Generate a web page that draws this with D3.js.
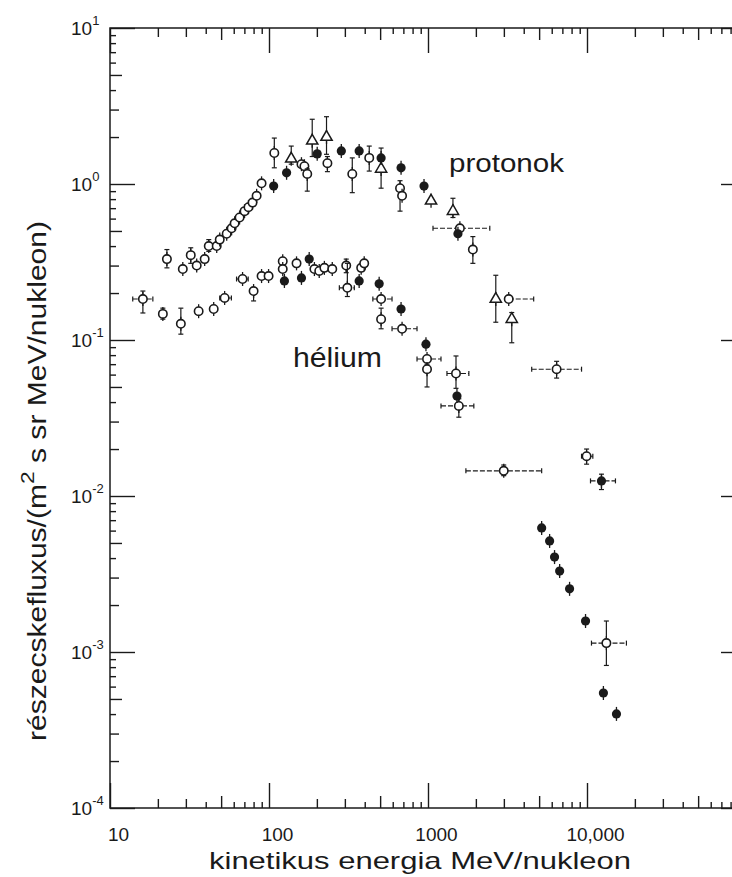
<!DOCTYPE html>
<html><head><meta charset="utf-8">
<script src="https://cdn.jsdelivr.net/npm/d3@7"></script>
<style>
html,body{margin:0;padding:0;background:#fff;}
svg{display:block;}
text{font-family:"Liberation Sans",Arial,Helvetica,sans-serif;fill:#1a1a1a;}
</style></head><body>
<svg id="c" width="732" height="877"></svg>
<script>
// ---- data: [energy MeV/nucleon, flux, fluxLo, fluxHi, energyLo, energyHi] ----
const protonOpen = [
  [22.8,0.33,0.29,0.38],[28.7,0.285],[32.2,0.35,0.31,0.39],[35.1,0.30],[39.4,0.33],
  [41.8,0.40,0.37,0.44],[46.9,0.40],[49.0,0.44],[54.2,0.48],[58.2,0.52],[60.8,0.56],
  [65.3,0.61],[70.2,0.67],[74.3,0.71],[78.8,0.76],[83.6,0.84],[89.8,1.01],
  [108,1.58,1.27,1.97],[160,1.34],[167,1.30],[174,1.16,0.90,1.25],[233,1.36,1.20,1.50],
  [334,1.16,0.88,1.47],[427,1.47,1.21,1.75],[667,0.94,0.67,1.05],[687,0.84],
  [1587,0.52,null,null,1075,2447],[1915,0.38,0.31,0.46],[3219,0.183,null,null,null,4620],
  [6440,0.065,0.057,0.073,4490,9240],[9940,0.018,0.016,0.020,9240,10880]
];
const protonFilled = [
  [107,0.97],[129,1.18],[201,1.56],[285,1.63],[369,1.63],[507,1.47],[677,1.27],
  [944,0.97],[1543,0.48],[12330,0.0125,0.011,0.0138,10520,15100]
];
const protonTriangle = [
  [138,1.45,1.34,1.75],[187,1.89,1.50,2.60],[230,2.0,1.55,2.7],[507,1.25,0.94,1.70],
  [1045,0.78],[1435,0.67,0.61,0.81],[2669,0.183,0.13,0.26],[3364,0.136,0.096,0.15]
];
const heliumOpen = [
  [16.1,0.183,0.149,0.206,13.9,18.6],[21.5,0.147,0.136,0.16],[27.9,0.127,0.109,0.16],
  [36.1,0.153],[44.9,0.158],[52.6,0.186,null,null,49,58],[68.2,0.246,null,null,62.5,74],
  [80.0,0.206,0.178,0.216],[89.8,0.257],[99.4,0.257],[122,0.32],[122,0.285],[149,0.31],
  [193,0.285],[207,0.277],[223,0.29],[250,0.285],[306,0.30,0.27,0.33],
  [311,0.216,0.19,0.31,277,344],[380,0.29],[397,0.31],[507,0.183,null,null,450,594],
  [507,0.136,0.118,0.16],[687,0.118,null,null,594,853],[986,0.0756,null,null,853,1207],
  [986,0.065,0.05,0.07],[1500,0.061,0.049,0.079,1316,1807],[1563,0.0378,0.032,0.042,1207,1942],
  [2995,0.0145,0.0135,0.0158,1731,5186],[13240,0.00114,0.00082,0.00158,10670,17700]
];
const heliumFilled = [
  [125,0.239],[160,0.25],[179,0.33],[369,0.239],[493,0.229],[677,0.158],[971,0.094],
  [1521,0.0437],[5186,0.00624],[5820,0.00515],[6250,0.00406],[6730,0.0033],[7770,0.00254],
  [9790,0.00158],[12680,0.000546],[15320,0.000401]
];
const xMajor = [10,100,1000,10000];
const xTickLabels = ["10","100","1000","10,000"];
const yMajor = [10,1,0.1,0.01,0.001,0.0001];
const yTickExp = ["1","0","-1","-2","-3","-4"];
const xTitle = "kinetikus energia MeV/nukleon";
const yTitleA = "részecskefluxus/(m", yTitleSup = "2", yTitleB = " s sr MeV/nukleon)";
const seriesLabels = ["protonok","hélium"];

// ---- drawing ----
const ink = "#1a1a1a";
const svg = d3.select("#c");
svg.append("rect").attr("width",732).attr("height",877).attr("fill","#fff");
const x = d3.scaleLog().domain([10,1e5]).range([110,746]);
const y = d3.scaleLog().domain([1e-4,10]).range([808,28]);
const L = x.range()[0], R = x.range()[1], T = y.range()[1], B = y.range()[0];

function decadeTicks(lo,hi,ks){const out=[];for(let e=lo;e<hi;e++)for(const k of ks)out.push(+(k*Math.pow(10,e)).toPrecision(6));return out;}
const groups = [
  {ks:[5], len:12},
  {ks:[2,3], len:9},
  {ks:[4,6,7,8,9], len:6}
];
function styleAxis(g){g.select(".domain").remove();g.selectAll("line").attr("stroke",ink).attr("stroke-width",1.4);}
// minor ticks on all four sides
groups.forEach(gp=>{
  const xv = decadeTicks(1,5,gp.ks), yv = decadeTicks(-4,1,gp.ks);
  svg.append("g").attr("transform",`translate(0,${B})`).call(d3.axisBottom(x).tickValues(xv).tickSize(-gp.len).tickFormat("")).call(styleAxis);
  svg.append("g").attr("transform",`translate(0,${T})`).call(d3.axisTop(x).tickValues(xv).tickSize(-gp.len).tickFormat("")).call(styleAxis);
  svg.append("g").attr("transform",`translate(${L},0)`).call(d3.axisLeft(y).tickValues(yv).tickSize(-gp.len).tickFormat("")).call(styleAxis);
  svg.append("g").attr("transform",`translate(${R},0)`).call(d3.axisRight(y).tickValues(yv).tickSize(-gp.len).tickFormat("")).call(styleAxis);
});
// major ticks
const bottomAx = svg.append("g").attr("transform",`translate(0,${B})`)
  .call(d3.axisBottom(x).tickValues(xMajor).tickSize(-25).tickPadding(20).tickFormat((d,i)=>xTickLabels[i]))
  .call(styleAxis);
bottomAx.selectAll("text").attr("font-size",19).attr("dx",8).attr("font-family","'Liberation Sans',Arial,sans-serif").attr("fill",ink);
svg.append("g").attr("transform",`translate(0,${T})`).call(d3.axisTop(x).tickValues(xMajor).tickSize(-25).tickFormat("")).call(styleAxis);
svg.append("g").attr("transform",`translate(${L},0)`).call(d3.axisLeft(y).tickValues(yMajor).tickSize(-25).tickFormat("")).call(styleAxis);
svg.append("g").attr("transform",`translate(${R},0)`).call(d3.axisRight(y).tickValues(yMajor).tickSize(-25).tickFormat("")).call(styleAxis);
// frame
svg.append("rect").attr("x",L).attr("y",T).attr("width",R-L).attr("height",B-T)
  .attr("fill","none").attr("stroke",ink).attr("stroke-width",1.5);

// y tick labels 10^n
yMajor.forEach((v,i)=>{
  const t = svg.append("text").attr("x",71).attr("y",y(v)+7).attr("font-size",19);
  t.append("tspan").text("10");
  t.append("tspan").attr("font-size",13).attr("dy",-10).text(yTickExp[i]);
});

// axis titles
svg.append("text").attr("x",420).attr("y",869).attr("text-anchor","middle")
  .attr("font-size",24).attr("textLength",422).attr("lengthAdjust","spacingAndGlyphs").text(xTitle);
const yt = svg.append("text").attr("transform","translate(46,481) rotate(-90)")
  .attr("text-anchor","middle").attr("font-size",25).attr("textLength",520).attr("lengthAdjust","spacingAndGlyphs");
yt.append("tspan").text(yTitleA);
yt.append("tspan").attr("font-size",19).attr("dy",-12).text(yTitleSup);
yt.append("tspan").attr("dy",12).text(yTitleB);

// series labels
svg.append("text").attr("x",449).attr("y",172).attr("font-size",26)
  .attr("textLength",115).attr("lengthAdjust","spacingAndGlyphs").text(seriesLabels[0]);
svg.append("text").attr("x",293).attr("y",367).attr("font-size",27)
  .attr("textLength",89).attr("lengthAdjust","spacingAndGlyphs").text(seriesLabels[1]);

// data points
const plot = svg.append("g");
function drawSeries(data, kind){
  const g = plot.append("g");
  data.forEach(d=>{
    const [E,F,Flo,Fhi,Elo,Ehi] = d;
    const px = x(E), py = y(F);
    // stem
    g.append("line").attr("x1",px).attr("x2",px).attr("y1",py-7).attr("y2",py+7)
      .attr("stroke",ink).attr("stroke-width",1.3);
    if (Flo!=null && Fhi!=null){
      const y1 = y(Fhi), y2 = y(Flo);
      g.append("line").attr("x1",px).attr("x2",px).attr("y1",y1).attr("y2",y2)
        .attr("stroke",ink).attr("stroke-width",1.2);
      [y1,y2].forEach(yy=>g.append("line").attr("x1",px-2.5).attr("x2",px+2.5).attr("y1",yy).attr("y2",yy)
        .attr("stroke",ink).attr("stroke-width",1.2));
    }
    if (Elo!=null || Ehi!=null){
      const x1 = Elo!=null ? x(Elo) : px, x2 = Ehi!=null ? x(Ehi) : px;
      g.append("line").attr("x1",x1).attr("x2",x2).attr("y1",py).attr("y2",py)
        .attr("stroke",ink).attr("stroke-width",1.1).attr("stroke-dasharray","5,2");
      [Elo!=null?x1:null, Ehi!=null?x2:null].filter(v=>v!=null).forEach(xx=>
        g.append("line").attr("x1",xx).attr("x2",xx).attr("y1",py-2.5).attr("y2",py+2.5)
          .attr("stroke",ink).attr("stroke-width",1.2));
    }
    if (kind==="open"){
      g.append("circle").attr("cx",px).attr("cy",py).attr("r",4.2)
        .attr("fill","#fff").attr("stroke",ink).attr("stroke-width",1.6);
    } else if (kind==="filled"){
      g.append("circle").attr("cx",px).attr("cy",py).attr("r",4.6).attr("fill",ink);
    } else {
      g.append("path").attr("d",d3.symbol(d3.symbolTriangle,55)()).attr("transform",`translate(${px},${py})`)
        .attr("fill","#fff").attr("stroke",ink).attr("stroke-width",1.5);
    }
  });
}
drawSeries(heliumOpen,"open");
drawSeries(heliumFilled,"filled");
drawSeries(protonOpen,"open");
drawSeries(protonTriangle,"triangle");
drawSeries(protonFilled,"filled");
</script>
</body></html>
